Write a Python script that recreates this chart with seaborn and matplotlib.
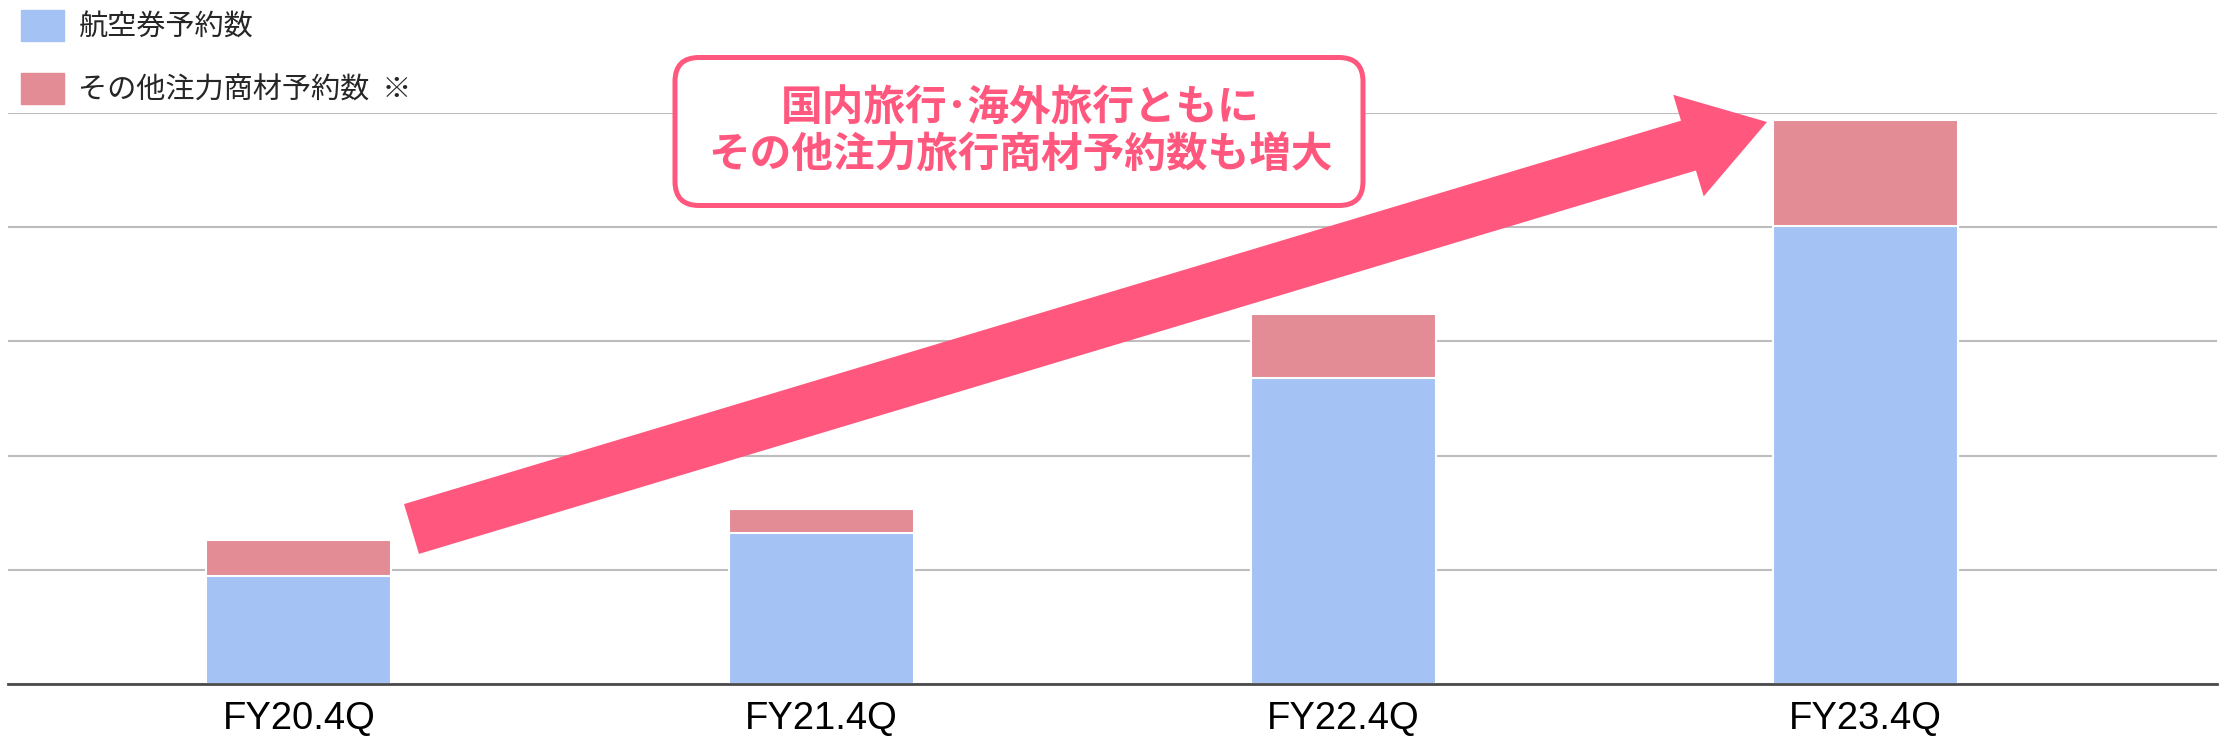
import matplotlib
matplotlib.use("Agg")
import matplotlib.pyplot as plt
import matplotlib.patches as mpatches
from matplotlib.transforms import IdentityTransform
import seaborn as sns
import pandas as pd

quarters = ["FY20.4Q", "FY21.4Q", "FY22.4Q", "FY23.4Q"]
air_tickets = [0.95, 1.32, 2.68, 4.01]      # 航空券予約数 (grid units, no axis scale shown)
other_products = [0.31, 0.21, 0.56, 0.93]   # その他注力商材予約数
legend_labels = ["航空券予約数", "その他注力商材予約数  ※"]
callout = ["国内旅行･海外旅行ともに", "その他注力旅行商材予約数も増大"]

BLUE = "#a4c2f4"
PINK = "#e38c96"
ACCENT = "#ff577d"

df = pd.DataFrame({"quarter": quarters, "air": air_tickets, "other": other_products})
df["total"] = df["air"] + df["other"]

sns.set_theme(style="white")
plt.rcParams["font.family"] = ["Noto Sans CJK JP", "DejaVu Sans"]

W, H = 2229, 750
fig = plt.figure(figsize=(W / 100, H / 100), dpi=100)
ax = fig.add_axes([8 / W, 1 - 684 / H, (2217 - 8) / W, (684 - 113) / H])

# stacked bars: total (pink) first, then the blue part on top of it
sns.barplot(data=df, x="quarter", y="total", color=PINK, saturation=1, width=0.354,
            edgecolor="white", linewidth=1.5, ax=ax)
sns.barplot(data=df, x="quarter", y="air", color=BLUE, saturation=1, width=0.354,
            edgecolor="white", linewidth=1.5, ax=ax)

ax.set_xlim(-0.557, 3.673)
ax.set_ylim(0, 5)
ax.set_yticks(range(0, 6))
ax.set_yticklabels([])
ax.set_xlabel("")
ax.set_ylabel("")
ax.set_axisbelow(True)
ax.grid(axis="y", color="#bdbdbd", linewidth=1.5)
for s in ["left", "right", "top"]:
    ax.spines[s].set_visible(False)
ax.spines["bottom"].set_color("#4a4a4a")
ax.spines["bottom"].set_linewidth(2)
ax.tick_params(axis="both", length=0)
ax.tick_params(axis="x", pad=12)
for lab in ax.get_xticklabels():
    lab.set_fontfamily(["Liberation Sans", "DejaVu Sans"])
    lab.set_fontsize(27.5)
    lab.set_color("black")

handles = [mpatches.Patch(color=BLUE, label=legend_labels[0]),
           mpatches.Patch(color=PINK, label=legend_labels[1])]
ax.legend(handles=handles, loc="upper left", bbox_to_anchor=(21 / W, 1 - 10 / H),
          bbox_transform=fig.transFigure, frameon=False, fontsize=21,
          handlelength=1.47, handleheight=1.27, handletextpad=0.5,
          labelspacing=1.05, borderpad=0, borderaxespad=0)

# big trend arrow (pixel coordinates, origin bottom-left)
tail = (411.5, H - 529)
tip = (1767, H - 122)
arrow = mpatches.FancyArrow(tail[0], tail[1], tip[0] - tail[0], tip[1] - tail[1],
                            width=52, head_width=106, head_length=82,
                            length_includes_head=True, color=ACCENT, lw=0,
                            transform=IdentityTransform())
fig.add_artist(arrow)

# callout box
box = mpatches.FancyBboxPatch((675, H - 205.5), 1363 - 675, 205.5 - 57.5,
                              boxstyle="round,pad=0,rounding_size=24",
                              facecolor="white", edgecolor=ACCENT, linewidth=3.6,
                              transform=IdentityTransform())
fig.add_artist(box)
cx = 1020 / W
fig.text(cx, 1 - 107.5 / H, callout[0], ha="center", va="center", fontsize=30,
         fontweight="bold", color=ACCENT)
fig.text(cx, 1 - 155 / H, callout[1], ha="center", va="center", fontsize=30,
         fontweight="bold", color=ACCENT)

fig.savefig("out.png", dpi=100)
